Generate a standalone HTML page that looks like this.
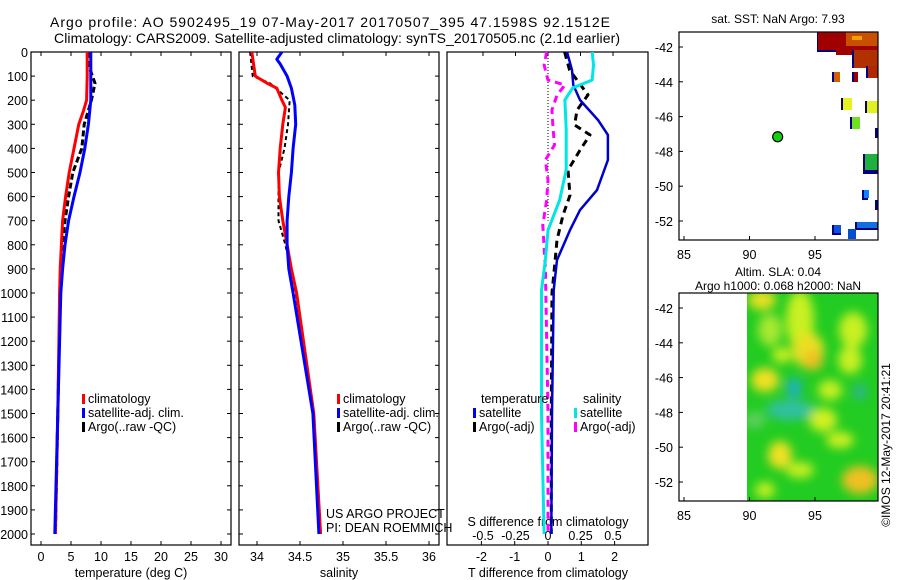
<!DOCTYPE html>
<html><head><meta charset="utf-8"><style>
html,body{margin:0;padding:0;background:#fff}
svg{display:block;font-family:"Liberation Sans",sans-serif}
text{fill:#000}
</style></head><body>
<svg id="chart" width="900" height="580" viewBox="0 0 900 580" xmlns="http://www.w3.org/2000/svg">
<defs>
<filter id="blur" x="-20%" y="-20%" width="140%" height="140%"><feGaussianBlur stdDeviation="5"/></filter>
<clipPath id="slaClip"><rect x="747" y="293" width="131" height="208"/></clipPath>
</defs>
<text x="50" y="27" font-size="14" textLength="560" lengthAdjust="spacing">Argo profile: AO 5902495_19 07-May-2017 20170507_395 47.1598S 92.1512E</text>
<text x="54" y="43" font-size="14" textLength="566" lengthAdjust="spacing">Climatology: CARS2009. Satellite-adjusted climatology: synTS_20170505.nc (2.1d earlier)</text>
<g id="g"></g>
</svg>
<script>
// ---- data ----
var depthTicks=[0,100,200,300,400,500,600,700,800,900,1000,1100,1200,1300,1400,1500,1600,1700,1800,1900,2000];
var tempTicks=[0,5,10,15,20,25,30];
var salTicks=[34,34.5,35,35.5,36];
var salTickLabels=["34","34.5","35","35.5","36"];
var tdTicks=[-2,-1,0,1,2];
var sdTicks=[-0.5,-0.25,0,0.25,0.5];
var sdTickLabels=["-0.5","-0.25","0","0.25","0.5"];

var tDepth=[0,100,200,250,300,400,500,600,700,800,900,1000,1500,2000];
var tClim=[7.7,7.7,7.6,7.0,6.3,5.5,4.7,4.1,3.6,3.4,3.2,3.1,2.8,2.4];
var tSat=[8.3,8.3,8.3,8.1,7.9,7.3,6.5,5.5,4.6,4.0,3.6,3.3,2.8,2.3];
var tArgoDepth=[0,60,130,200,300,400,500,600,700,800,1000,1500,2000];
var tArgo=[7.9,8.0,9.0,8.4,7.2,6.8,5.3,4.6,4.0,3.6,3.2,2.8,2.4];

var sDepth=[0,100,130,150,200,230,300,400,500,600,700,800,900,1000,1500,2000];
var sClim=[33.94,33.98,34.12,34.23,34.29,34.33,34.30,34.27,34.25,34.26,34.30,34.35,34.40,34.46,34.66,34.74];
var sSatDepth=[0,30,50,100,150,220,300,400,500,600,700,800,900,1000,1500,2000];
var sSat=[34.29,34.23,34.27,34.35,34.40,34.44,34.45,34.42,34.40,34.37,34.35,34.35,34.37,34.42,34.65,34.72];
var sArgoDepth=[0,100,130,200,300,400,500,700,800,1000,1500,2000];
var sArgo=[33.92,33.95,34.15,34.38,34.36,34.32,34.25,34.25,34.33,34.45,34.66,34.73];

var dDepth=[0,75,137,199,282,344,448,573,656,739,863,988,1500,2000];
var dTSat=[0.57,0.72,0.76,0.96,1.5,1.8,1.8,1.47,0.96,0.66,0.27,0.17,0.12,0.1];
var dSSatDepth=[0,54,116,149,199,323,489,614,739,863,988,1500,2000];
var dSSat=[0.34,0.35,0.34,0.19,0.13,0.14,0.14,0.09,0.0,-0.02,-0.05,-0.05,-0.03];
var dTArgoDepth=[0,75,178,241,303,344,407,490,594,677,780,884,1000,1500,2000];
var dTArgo=[0.5,0.65,1.2,0.87,0.8,1.26,0.96,0.6,0.66,0.45,0.27,0.2,0.12,0.1,0.1];
var dSArgoDepth=[0,54,116,137,178,241,324,386,448,531,614,718,900,1500,2000];
var dSArgo=[-0.01,-0.03,0.0,0.13,0.07,0.03,0.04,0.05,-0.02,0.0,-0.01,-0.04,-0.02,0.0,0.0];

var latTicks=[-42,-44,-46,-48,-50,-52];
var lonTicks=[85,90,95];

// ---- axes ----
function yD(d){return 52+0.241*d;}
function xT(t){return 41+6*t;}
function xS(s){return 257+86*(s-34);}
function xDT(v){return 548+33.3*v;}
function xDS(v){return 548+130*v;}
function xLon(l){return 684+13.1*(l-85);}
function yLat1(l){return 47+17.4*(-42-l);}
function yLat2(l){return 308+17.4*(-42-l);}

var NS="http://www.w3.org/2000/svg",G=document.getElementById('g');
function el(tag,attrs,parent){var e=document.createElementNS(NS,tag);for(var k in attrs)e.setAttribute(k,attrs[k]);(parent||G).appendChild(e);return e;}
function txt(x,y,s,size,anchor,name,parent,extra){var t=el('text',{x:x,y:y,'font-size':size,'text-anchor':anchor||'start'},parent);t.textContent=s;


if(extra)for(var k in extra)t.setAttribute(k,extra[k]);return t;}
function frame(x0,y0,x1,y1,name){var r=el('rect',{x:x0,y:y0,width:x1-x0,height:y1-y0,fill:'none',stroke:'#000','stroke-width':1.2});

}
function line(xs,ds,fx,color,w,dash,name){var p='';for(var i=0;i<xs.length;i++){p+=(i?'L':'M')+fx(xs[i]).toFixed(1)+','+yD(ds[i]).toFixed(1);}
var e=el('path',{d:p,fill:'none',stroke:color,'stroke-width':w,'stroke-linejoin':'round'});if(dash)e.setAttribute('stroke-dasharray',dash);

}

var PT=52,PB=545;
frame(31,PT,231,PB,'temperature-panel-frame');
frame(239,PT,439,PB,'salinity-panel-frame');
frame(447,PT,648,PB,'difference-panel-frame');

depthTicks.forEach(function(d){var y=yD(d);
txt(28,y+5,String(d),12.5,'end','depth-tick-label');
el('line',{x1:31,x2:35,y1:y,y2:y,stroke:'#000'});el('line',{x1:227,x2:231,y1:y,y2:y,stroke:'#000'});
el('line',{x1:239,x2:243,y1:y,y2:y,stroke:'#000'});el('line',{x1:435,x2:439,y1:y,y2:y,stroke:'#000'});
});
tempTicks.forEach(function(t){var x=xT(t);txt(x,561,String(t),12.5,'middle','temperature-tick-label');
el('line',{x1:x,x2:x,y1:PT,y2:PT+4,stroke:'#000'});el('line',{x1:x,x2:x,y1:PB-4,y2:PB,stroke:'#000'});});
salTicks.forEach(function(s,i){var x=xS(s);txt(x,561,salTickLabels[i],12.5,'middle','salinity-tick-label');
el('line',{x1:x,x2:x,y1:PT,y2:PT+4,stroke:'#000'});el('line',{x1:x,x2:x,y1:PB-4,y2:PB,stroke:'#000'});});
tdTicks.forEach(function(v){var x=xDT(v);txt(x,561,String(v),12.5,'middle','t-difference-tick-label');
el('line',{x1:x,x2:x,y1:PB-4,y2:PB,stroke:'#000'});});
sdTicks.forEach(function(v,i){var x=xDS(v);txt(x,540,sdTickLabels[i],12.5,'middle','s-difference-tick-label');
el('line',{x1:x,x2:x,y1:PT,y2:PT+4,stroke:'#000'});});
txt(131,577,'temperature (deg C)',12.5,'middle','temperature-axis-title');
txt(339,577,'salinity',12.5,'middle','salinity-axis-title');
txt(548,577,'T difference from climatology',12.5,'middle','t-difference-axis-title');
txt(548,526,'S difference from climatology',12.5,'middle','s-difference-axis-title');
txt(326,518,'US ARGO PROJECT',12.5,'start','project-label');
txt(326,532,'PI: DEAN ROEMMICH',12.5,'start','pi-label');

el('line',{x1:548,x2:548,y1:PT,y2:yD(700),stroke:'#000','stroke-dasharray':'1,2'});

line(tArgo,tArgoDepth,xT,'#000',3,'6,3','temperature-argo-line');
line(tClim,tDepth,xT,'#ff0000',3,null,'temperature-climatology-line');
line(tSat,tDepth,xT,'#0000ff',3,null,'temperature-satellite-line');
line(sArgo,sArgoDepth,xS,'#000',2,'4,3','salinity-argo-line');
line(sClim,sDepth,xS,'#ff0000',3,null,'salinity-climatology-line');
line(sSat,sSatDepth,xS,'#0000ff',3,null,'salinity-satellite-line');
line(dSArgo,dSArgoDepth,xDS,'#ff00ff',3,'7,5','s-diff-argo-line');
line(dTArgo,dTArgoDepth,xDT,'#000',3,'7,5','t-diff-argo-line');
line(dTSat,dDepth,xDT,'#0000cc',2.5,null,'t-diff-satellite-line');
line(dSSat,dSSatDepth,xDS,'#00e5e5',3,null,'s-diff-satellite-line');

function leg(x,y,color,label,name){var r=el('rect',{x:x,y:y-9,width:3,height:10,fill:color});


txt(x+6,y,label,12.5,'start',name);}
leg(82,403,'#ff0000','climatology','temp-legend-climatology');
leg(82,417,'#0000ff','satellite-adj. clim.','temp-legend-satellite');
leg(82,431,'#000','Argo(..raw -QC)','temp-legend-argo');
leg(337,403,'#ff0000','climatology','sal-legend-climatology');
leg(337,417,'#0000ff','satellite-adj. clim.','sal-legend-satellite');
leg(337,431,'#000','Argo(..raw -QC)','sal-legend-argo');
txt(481,403,'temperature',12.5,'start','legend-header-temperature');
txt(583,403,'salinity',12.5,'start','legend-header-salinity');
leg(473,417,'#0000ff','satellite','diff-legend-t-satellite');
leg(473,431,'#000','Argo(-adj)','diff-legend-t-argo');
leg(574,417,'#00e5e5','satellite','diff-legend-s-satellite');
leg(574,431,'#ff00ff','Argo(-adj)','diff-legend-s-argo');

// ---- maps ----
txt(778,23,'sat. SST: NaN Argo: 7.93',12,'middle','sst-map-title');
txt(778,276,'Altim. SLA: 0.04',12,'middle','sla-map-title');
txt(778,290,'Argo h1000: 0.068 h2000: NaN',12,'middle','sla-map-subtitle');
var sst=[[817,32,61,20,'#000080'],[818,32,60,18,'#a00000'],[846,32,32,14,'#c85000'],[852,36,10,4,'#f0a000'],[852,50,26,18,'#000080'],[854,50,24,18,'#b03000'],[836,50,16,5,'#a00000'],[866,66,12,12,'#000080'],[868,66,10,12,'#b02800'],
[832,72,8,10,'#000080'],[834,72,6,10,'#d06000'],[852,72,6,10,'#000080'],[854,72,4,10,'#a00000'],[841,98,10,12,'#000080'],[843,98,9,12,'#e8f020'],[865,101,13,12,'#000080'],[867,101,11,12,'#e0f020'],[850,117,2,12,'#000080'],[852,117,8,12,'#70e020'],[875,128,3,10,'#000080'],[863,154,15,20,'#000080'],[865,154,13,16,'#20b040'],
[862,190,6,10,'#000080'],[864,190,5,8,'#1080ff'],[875,200,3,10,'#000080'],[855,222,23,8,'#000080'],[857,222,20,6,'#1070e0'],[832,225,9,10,'#000080'],[834,225,7,8,'#1050e0'],[848,229,8,10,'#0050d0']];
sst.forEach(function(p){var r=el('rect',{x:p[0],y:p[1],width:p[2],height:p[3],fill:p[4]});

});
var dot=el('circle',{cx:xLon(92.15),cy:yLat1(-47.16),r:5,fill:'#10d010',stroke:'#000','stroke-width':1.2});


var base=el('rect',{x:747,y:293,width:131,height:208,fill:'#22cc22'});


var sg=el('g',{'clip-path':'url(#slaClip)',filter:'url(#blur)'});
var blobs=[[762,300,14,10,'#e8e020'],[770,330,12,16,'#a8e830'],[800,320,14,30,'#c8f020'],[808,350,16,18,'#e8e020'],[813,360,10,10,'#f0c020'],[765,380,14,12,'#f0e020'],
[782,355,10,8,'#c8f020'],[853,330,14,18,'#c8f020'],[850,360,12,14,'#c8f020'],[830,390,12,10,'#c8f020'],[794,388,8,10,'#20b0c0'],[790,410,24,10,'#30c0a0'],[823,420,14,12,'#d0f020'],
[780,455,12,14,'#f0e020'],[860,480,18,14,'#f0c020'],[840,440,14,8,'#d0f020'],[860,392,6,8,'#30b0a0'],[755,420,10,8,'#60d060'],[800,470,14,8,'#c8f020'],[765,490,10,8,'#c8f020']];
blobs.forEach(function(b){var e=el('ellipse',{cx:b[0],cy:b[1],rx:b[2],ry:b[3],fill:b[4]},sg);

});
frame(679,32,878,240,'sst-map-frame');
frame(679,293,878,501,'sla-map-frame');
latTicks.forEach(function(l){var y1=yLat1(l),y2=yLat2(l);
txt(673,y1+5,String(l),12.5,'end','sst-lat-tick-label');txt(673,y2+5,String(l),12.5,'end','sla-lat-tick-label');
el('line',{x1:679,x2:683,y1:y1,y2:y1,stroke:'#000'});el('line',{x1:679,x2:683,y1:y2,y2:y2,stroke:'#000'});});
lonTicks.forEach(function(l){var x=xLon(l);txt(x,259,String(l),12.5,'middle','sst-lon-tick-label');txt(x,520,String(l),12.5,'middle','sla-lon-tick-label');
el('line',{x1:x,x2:x,y1:236,y2:240,stroke:'#000'});el('line',{x1:x,x2:x,y1:497,y2:501,stroke:'#000'});});
txt(0,0,'©IMOS 12-May-2017 20:41:21',12,'middle','timestamp-label',G,{transform:'translate(890,445) rotate(-90)'});
</script>
</body></html>
